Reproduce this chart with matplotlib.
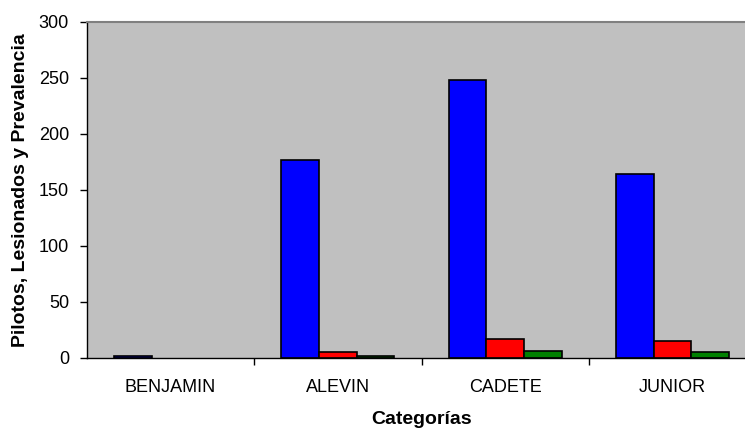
import matplotlib.pyplot as plt
import numpy as np

# categories and the three series per category
categorias = ["BENJAMIN", "ALEVIN", "CADETE", "JUNIOR"]
pilotos = [2, 177, 248, 164]
lesionados = [0, 5, 17, 15]
prevalencia = [0, 2, 6, 5]

plt.rcParams['font.family'] = ['Liberation Sans', 'DejaVu Sans']

fig = plt.figure(figsize=(7.45, 4.29), dpi=100)
# plot area runs a little past the right edge of the figure
ax = fig.add_axes([87 / 745, 71 / 429, 669 / 745, 336 / 429])
ax.set_facecolor("#c0c0c0")

x = np.arange(len(categorias)) + 0.5
w = 0.225
series = [(pilotos, -w, "#0000ff"), (lesionados, 0, "#ff0000"), (prevalencia, w, "#008000")]
for vals, off, col in series:
    vals = np.array(vals, dtype=float)
    keep = vals > 0  # empty bars are not drawn at all
    ax.bar(x[keep] + off, vals[keep], w, color=col, edgecolor="black", linewidth=1.2)

ax.set_xlim(0, 4)
ax.set_ylim(0, 300)
ax.set_yticks([0, 50, 100, 150, 200, 250, 300])

# category names centred, tick marks on the boundaries
ax.set_xticks(x)
ax.set_xticklabels(categorias)
ax.tick_params(axis="x", which="major", length=0, pad=15, labelsize=13)
ax.set_xticks([1, 2, 3], minor=True)
ax.tick_params(axis="x", which="minor", length=5, width=1, direction="out")
ax.tick_params(axis="y", length=5, width=1, direction="out", pad=8, labelsize=13)

ax.spines["top"].set_color("#808080")
ax.spines["top"].set_linewidth(1.5)
ax.spines["right"].set_visible(False)
ax.spines["left"].set_linewidth(1)
ax.spines["bottom"].set_linewidth(1)

ax.set_xlabel("Categorías", fontsize=14, fontweight="bold")
ax.xaxis.set_label_coords(0.5, -0.158)
ax.set_ylabel("Pilotos, Lesionados y Prevalencia", fontsize=14, fontweight="bold")
ax.yaxis.set_label_coords(-0.087, 0.5)

fig.savefig("out.png", dpi=100)
